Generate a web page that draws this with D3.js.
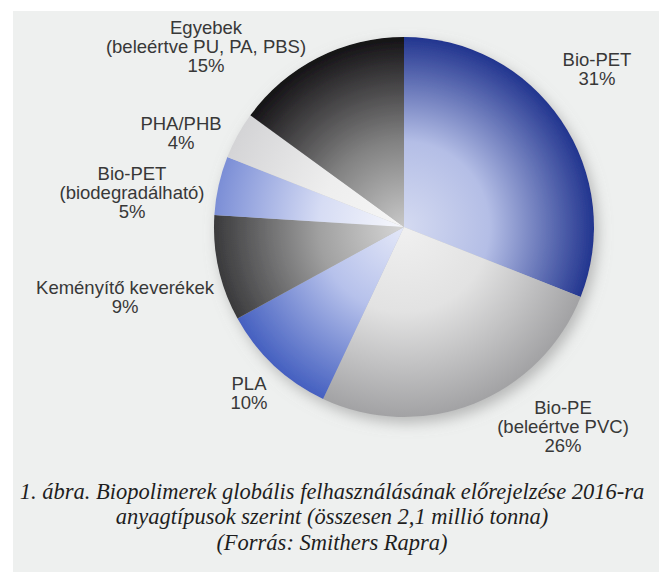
<!DOCTYPE html>
<html>
<head>
<meta charset="utf-8">
<script src="https://cdn.jsdelivr.net/npm/d3@7"></script>
<style>
  html, body { margin: 0; padding: 0; background: #ffffff; }
  svg { display: block; }
</style>
</head>
<body>
<script>
// Biopolimer felhasználás 2016 – anyagtípusok szerinti megoszlás (%)
const categories = ["Bio-PET", "Bio-PE", "PLA", "Keményítő keverékek", "Bio-PET", "PHA/PHB", "Egyebek"];
const subtitles  = ["", "(beleértve PVC)", "", "", "(biodegradálható)", "", "(beleértve PU, PA, PBS)"];
const shares     = [31, 26, 10, 9, 5, 4, 15];

const captionLines = [
  "1. ábra. Biopolimerek globális felhasználásának előrejelzése 2016-ra",
  "anyagtípusok szerint (összesen 2,1 millió tonna)",
  "(Forrás: Smithers Rapra)"
];

// slice shading: [inner colour, middle colour, rim colour]
const sliceShades = [
  ["#d4daf1", "#b4bee6", "#22358f"],
  ["#f0f0f0", "#e2e2e2", "#a2a2a4"],
  ["#e4e8f8", "#b6c1eb", "#4560c0"],
  ["#d6d6d6", "#a0a0a0", "#3a3a3c"],
  ["#f7f8fc", "#d6dcf4", "#7b8ed6"],
  ["#f6f6f6", "#eeeeee", "#d4d4d6"],
  ["#c8c8c8", "#828282", "#141215"]
];

// label block placement relative to the pie centre (first line)
const labelOffsets = [[193, -168], [159, 180], [-155, 156], [-279, 60], [-272, -54], [-223, -104], [-198, -200]];

const W = 659, H = 572;
const cx = 404, cy = 227, R = 190;

const svg = d3.select("body").append("svg").attr("width", W).attr("height", H);
const defs = svg.append("defs");

// panel background
svg.append("rect").attr("x", 13).attr("y", 11).attr("width", W - 13).attr("height", H - 11).attr("fill", "#eef0ef");

// soft shadow under the pie
const shadow = defs.append("filter").attr("id", "pieShadow")
  .attr("x", "-20%").attr("y", "-20%").attr("width", "140%").attr("height", "140%");
shadow.append("feGaussianBlur").attr("in", "SourceAlpha").attr("stdDeviation", 7).attr("result", "blur");
shadow.append("feOffset").attr("in", "blur").attr("dx", 4).attr("dy", 6).attr("result", "off");
shadow.append("feFlood").attr("flood-color", "#8a8a8a").attr("flood-opacity", 0.55).attr("result", "col");
shadow.append("feComposite").attr("in", "col").attr("in2", "off").attr("operator", "in").attr("result", "sh");
const merge = shadow.append("feMerge");
merge.append("feMergeNode").attr("in", "sh");
merge.append("feMergeNode").attr("in", "SourceGraphic");

// one radial gradient per slice, centred on the pie centre (the slices' local origin)
sliceShades.forEach((s, i) => {
  const g = defs.append("radialGradient").attr("id", "sl" + i)
    .attr("gradientUnits", "userSpaceOnUse")
    .attr("cx", 0).attr("cy", 0).attr("r", R);
  g.append("stop").attr("offset", "0").attr("stop-color", s[0]);
  g.append("stop").attr("offset", "0.45").attr("stop-color", s[1]);
  g.append("stop").attr("offset", "1").attr("stop-color", s[2]);
});

const pie = d3.pie().sort(null).value(d => d).startAngle(0).endAngle(2 * Math.PI);
const arc = d3.arc().innerRadius(0).outerRadius(R);
const arcs = pie(shares);

const pieG = svg.append("g").attr("transform", `translate(${cx},${cy})`).attr("filter", "url(#pieShadow)");
pieG.selectAll("path").data(arcs).join("path")
  .attr("d", arc)
  .attr("fill", (d, i) => `url(#sl${i})`);

// slice labels
const labelFont = "'Liberation Sans', Arial, Helvetica, sans-serif";
const lab = svg.append("g").attr("font-family", labelFont).attr("font-size", 18.5)
  .attr("fill", "#383838").attr("text-anchor", "middle");
arcs.forEach((d, i) => {
  const lines = [categories[i]];
  if (subtitles[i]) lines.push(subtitles[i]);
  lines.push(d.data + "%");
  const t = lab.append("text")
    .attr("x", cx + labelOffsets[i][0])
    .attr("y", cy + labelOffsets[i][1])
    .attr("dominant-baseline", "central");
  lines.forEach((ln, k) => {
    t.append("tspan").attr("x", cx + labelOffsets[i][0]).attr("dy", k === 0 ? 0 : 19).text(ln);
  });
});

// caption
const cap = svg.append("g").attr("font-family", "'Liberation Serif', 'Times New Roman', serif")
  .attr("font-style", "italic").attr("font-size", 22.5).attr("fill", "#1e1e1e").attr("text-anchor", "middle");
captionLines.forEach((ln, k) => {
  cap.append("text").attr("x", 332).attr("y", 491 + k * 25.5)
    .attr("dominant-baseline", "central").text(ln);
});
</script>
</body>
</html>
